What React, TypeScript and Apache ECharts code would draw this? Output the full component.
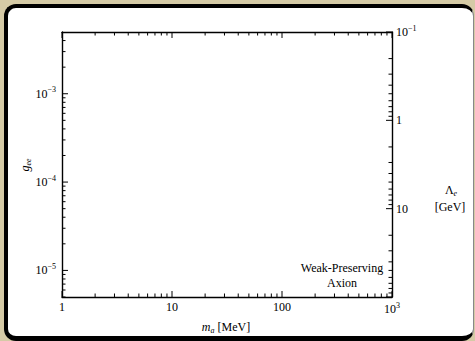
import React, { useEffect, useRef } from "react";
import * as echarts from "echarts";

// ---- data (axis ranges and tick lists) ----
const X_MIN = 1;
const X_MAX = 1000;
const G_MIN = 5e-6;
const G_MAX = 5e-3;
const L_MIN = 0.1;
const L_MAX = 100;

const xMajorTicks = [1, 10, 100, 1000];
const xMinorTicks = [2, 3, 4, 5, 6, 7, 8, 9, 20, 30, 40, 50, 60, 70, 80, 90, 200, 300, 400, 500, 600, 700, 800, 900];
const gMajorTicks = [1e-5, 1e-4, 1e-3];
const gMinorTicks = [5e-6, 6e-6, 7e-6, 8e-6, 9e-6, 2e-5, 3e-5, 4e-5, 5e-5, 6e-5, 7e-5, 8e-5, 9e-5, 2e-4, 3e-4, 4e-4, 5e-4, 6e-4, 7e-4, 8e-4, 9e-4, 2e-3, 3e-3, 4e-3];
const lMajorTicks = [0.1, 1, 10, 100];
const lMinorTicks = [0.2, 0.3, 0.4, 0.5, 0.6, 0.7, 0.8, 0.9, 2, 3, 4, 5, 6, 7, 8, 9, 20, 30, 40, 50, 60, 70, 80, 90];

const xTickLabels: Record<number, string> = { 0: "1", 1: "10", 2: "100", 3: "{b|10}{sup|3}" };
const gTickLabels: Record<number, string> = { [-5]: "{b|10}{sup|−5}", [-4]: "{b|10}{sup|−4}", [-3]: "{b|10}{sup|−3}" };
const lTickLabels: Record<number, string> = { [-1]: "{b|10}{sup|−1}", 0: "1", 1: "10" };

const FONT = "'Liberation Serif', 'Times New Roman', 'DejaVu Serif', serif";
const INK = "#000";
const MAJOR_LEN = 6;
const MINOR_LEN = 3.5;

const rich = {
  b: { fontSize: 12, fontFamily: FONT, color: INK },
  sup: { fontSize: 8, fontFamily: FONT, color: INK, padding: [0, 0, 8, 0] },
};

function fmt(table: Record<number, string>) {
  return (v: number) => {
    const l = Math.log10(v);
    const r = Math.round(l);
    if (Math.abs(l - r) > 1e-6) return "";
    return table[r] ?? "";
  };
}

export default function App() {
  const ref = useRef<HTMLDivElement>(null);
  useEffect(() => {
    if (!ref.current) return;
    const chart = echarts.init(ref.current, null, { renderer: "svg" });

    const xTickData = [
      ...xMajorTicks.map((v) => [v, G_MIN, MAJOR_LEN]),
      ...xMinorTicks.map((v) => [v, G_MIN, MINOR_LEN]),
    ];
    const gTickData = [
      ...gMajorTicks.map((v) => [X_MIN, v, MAJOR_LEN]),
      ...gMinorTicks.map((v) => [X_MIN, v, MINOR_LEN]),
    ];
    const lTickData = [
      ...lMajorTicks.map((v) => [X_MAX, v, MAJOR_LEN]),
      ...lMinorTicks.map((v) => [X_MAX, v, MINOR_LEN]),
    ];
    const tickStyle = { stroke: INK, lineWidth: 1 };

    const axisLine = { show: true, onZero: false, lineStyle: { color: INK, width: 1.4 } };
    const labelBase = { color: INK, fontFamily: FONT, fontSize: 12, rich };

    chart.setOption({
      animation: false,
      backgroundColor: "transparent",
      grid: { left: 62, top: 32, right: 83, bottom: 44 },
      xAxis: [
        {
          type: "log", logBase: 10, min: X_MIN, max: X_MAX, position: "bottom",
          axisLine, axisTick: { show: false }, splitLine: { show: false }, minorTick: { show: false },
          axisLabel: { ...labelBase, margin: 4, formatter: fmt(xTickLabels) },
        },
        {
          type: "log", logBase: 10, min: X_MIN, max: X_MAX, position: "top",
          axisLine, axisTick: { show: false }, splitLine: { show: false }, axisLabel: { show: false },
        },
      ],
      yAxis: [
        {
          type: "log", logBase: 10, min: G_MIN, max: G_MAX, position: "left",
          axisLine, axisTick: { show: false }, splitLine: { show: false }, minorTick: { show: false },
          axisLabel: { ...labelBase, margin: 6, formatter: fmt(gTickLabels) },
        },
        {
          type: "log", logBase: 10, min: L_MIN, max: L_MAX, position: "right", inverse: true,
          axisLine, axisTick: { show: false }, splitLine: { show: false }, minorTick: { show: false },
          axisLabel: { ...labelBase, margin: 4, formatter: fmt(lTickLabels) },
        },
      ],
      graphic: [
        {
          type: "text", x: 226, y: 327,
          style: {
            text: "{i|m}{sub|a}{t| [MeV]}", align: "center", verticalAlign: "middle",
            rich: {
              i: { fontSize: 12, fontFamily: FONT, fontStyle: "italic", fill: INK },
              sub: { fontSize: 8, fontFamily: FONT, fontStyle: "italic", fill: INK, padding: [6, 0, 0, 0] },
              t: { fontSize: 12, fontFamily: FONT, fill: INK },
            },
          },
        },
        {
          type: "text", x: 25, y: 165, rotation: Math.PI / 2,
          style: {
            text: "{i|g}{sub|ee}", align: "center", verticalAlign: "middle",
            rich: {
              i: { fontSize: 12, fontFamily: FONT, fontStyle: "italic", fill: INK },
              sub: { fontSize: 8, fontFamily: FONT, fontStyle: "italic", fill: INK, padding: [6, 0, 0, 0] },
            },
          },
        },
        {
          type: "text", x: 451, y: 190,
          style: {
            text: "{t|Λ}{sub|e}", align: "center", verticalAlign: "middle",
            rich: {
              t: { fontSize: 12, fontFamily: FONT, fill: INK },
              sub: { fontSize: 8, fontFamily: FONT, fontStyle: "italic", fill: INK, padding: [6, 0, 0, 0] },
            },
          },
        },
        {
          type: "text", x: 450, y: 207,
          style: { text: "[GeV]", align: "center", verticalAlign: "middle", fontSize: 12, fontFamily: FONT, fill: INK },
        },
        {
          type: "text", x: 342, y: 275,
          style: { text: "Weak-Preserving\nAxion", align: "center", verticalAlign: "middle", fontSize: 12, lineHeight: 15, fontFamily: FONT, fill: INK },
        },
      ],
      series: [
        {
          type: "custom", xAxisIndex: 0, yAxisIndex: 0, silent: true, clip: false,
          encode: { x: 0, y: 1 }, data: xTickData,
          renderItem: (_p: any, api: any) => {
            const x = api.value(0);
            const len = api.value(2);
            const b = api.coord([x, G_MIN]);
            const t = api.coord([x, G_MAX]);
            return {
              type: "group",
              children: [
                { type: "line", shape: { x1: b[0], y1: b[1], x2: b[0], y2: b[1] - len }, style: tickStyle },
                { type: "line", shape: { x1: t[0], y1: t[1], x2: t[0], y2: t[1] + len }, style: tickStyle },
              ],
            };
          },
        },
        {
          type: "custom", xAxisIndex: 0, yAxisIndex: 0, silent: true, clip: false,
          encode: { x: 0, y: 1 }, data: gTickData,
          renderItem: (_p: any, api: any) => {
            const p = api.coord([api.value(0), api.value(1)]);
            const len = api.value(2);
            return { type: "line", shape: { x1: p[0], y1: p[1], x2: p[0] + len, y2: p[1] }, style: tickStyle };
          },
        },
        {
          type: "custom", xAxisIndex: 0, yAxisIndex: 1, silent: true, clip: false,
          encode: { x: 0, y: 1 }, data: lTickData,
          renderItem: (_p: any, api: any) => {
            const p = api.coord([api.value(0), api.value(1)]);
            const len = api.value(2);
            return { type: "line", shape: { x1: p[0], y1: p[1], x2: p[0] - len, y2: p[1] }, style: tickStyle };
          },
        },
      ],
    });
    return () => chart.dispose();
  }, []);
  return (
    <div style={{ position: "fixed", left: 0, top: 0, width: 475, height: 341, background: "#d5caa6", overflow: "hidden" }}>
      <div
        style={{
          position: "absolute", left: 4, top: 4, width: 470, height: 337, boxSizing: "border-box",
          background: "#fff", borderStyle: "solid", borderColor: "#000 #888 #000 #000",
          borderWidth: "4px 1px 5px 4px", borderRadius: 12,
        }}
      />
      <div ref={ref} style={{ position: "absolute", left: 0, top: 0, width: 475, height: 341 }} />
    </div>
  );
}
